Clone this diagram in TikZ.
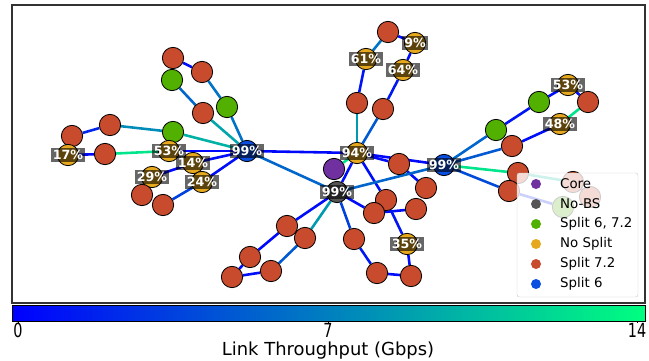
\documentclass[tikz,border=0pt]{standalone}
\usepackage{fontspec}
\setmainfont{DejaVu Sans}
\usetikzlibrary{backgrounds}
% link colours run from lo (0 Gbps) to hi (14 Gbps)
\definecolor{lo}{rgb}{0,0,1}
\definecolor{hi}{rgb}{0,1,0.5}
\definecolor{corec}{HTML}{7030A0}
\definecolor{nobsc}{HTML}{555555}
\definecolor{bothc}{HTML}{52B000}
\definecolor{nosplitc}{HTML}{E6A81E}
\definecolor{sevtwoc}{HTML}{C84B2D}
\definecolor{sixc}{HTML}{0A4FE0}
\tikzset{site/.style={circle,draw=black,line width=0.7pt,minimum size=0.64cm,inner sep=0pt},core/.style={site,fill=corec},nobs/.style={site,fill=nobsc},both/.style={site,fill=bothc},nosplit/.style={site,fill=nosplitc},sevtwo/.style={site,fill=sevtwoc},six/.style={site,fill=sixc},link/.style={line width=2.2pt},pct/.style={fill=black,fill opacity=0.6,text opacity=1,text=white,font=\fontsize{10.8}{12}\selectfont\bfseries,inner sep=1.6pt},keydot/.style={circle,minimum size=0.3cm,inner sep=0pt},keytxt/.style={anchor=west,font=\fontsize{11.4}{13}\selectfont,inner sep=0pt}}

\begin{document}
\begin{tikzpicture}[x=0.03cm,y=-0.03cm]
\useasboundingbox (0,0) rectangle (649,360);
\draw[black!80,line width=0.9pt] (12,5) rectangle (645,303);
% sites
\foreach \n/\x/\y/\sty in {r1/173/58/sevtwo,r2/202/72/sevtwo,g1/172/80/both,r3/203/113/sevtwo,g2/227/107/both,g3/173/132/both,r4/110/125/sevtwo,r5/72/136/sevtwo,y17/68/155/nosplit,r6/105/154/sevtwo,y53/169/151/nosplit,b99/247/151/six,y14/193/163/nosplit,y29/152/177/nosplit,y24/202/182/nosplit,r7/142/195/sevtwo,r8/163/205/sevtwo,
  r9/388/32/sevtwo,y9/415/43/nosplit,y61/366/59/nosplit,y64/403/70/nosplit,r10/357/103/sevtwo,r11/383/109/sevtwo,y94/357/153/nosplit,
  y53r/568/85/nosplit,r12/588/102/sevtwo,g4/539/102/both,y48/560/124/nosplit,g5/496/130/both,r13/512/146/sevtwo,b99r/444/165/six,r14/518/173/sevtwo,r15/509/191/sevtwo,r16/573/182/sevtwo,r17/590/197/sevtwo,g6/563/207/both,
  core/334/169/core,k99/337/192/nobs,r18/399/164/sevtwo,r19/426/188/sevtwo,r20/386/200/sevtwo,r21/374/213/sevtwo,r22/416/209/sevtwo,r23/354/239/sevtwo,r24/287/226/sevtwo,r25/305/238/sevtwo,r26/250/257/sevtwo,r27/271/271/sevtwo,r28/232/277/sevtwo,r29/377/273/sevtwo,r30/411/276/sevtwo,y35/407/244/nosplit}
  \node[\sty] (\n) at (\x,\y) {};
% links, value = share of 14 Gbps in percent
\begin{scope}[on background layer]
\foreach \a/\b/\t in {r1/r2/5,g1/r3/40,r2/g2/45,r3/b99/65,g2/b99/45,r5/r4/15,r4/g3/55,g3/b99/70,y17/r6/3,r6/y53/90,y53/b99/3,y14/b99/5,y29/y14/3,y24/b99/5,r8/y24/25,y29/r7/5,b99/y94/3,b99/k99/40,
  r9/y61/45,r9/y9/5,y9/y64/5,y61/r10/8,y64/r11/10,r10/y94/60,r11/y94/35,
  g4/y53r/5,y53r/r12/5,r12/y48/90,y48/r13/5,g5/g4/8,b99r/g5/40,b99r/r13/35,b99r/r14/90,b99r/r15/30,r14/r16/75,r15/g6/10,r16/r17/5,
  y94/b99r/3,y94/r18/5,r18/r19/5,y94/r20/5,y94/k99/5,core/y94/90,k99/b99r/40,k99/r21/5,r21/r22/5,r20/y35/8,
  k99/r24/5,k99/r25/60,r24/r26/3,r25/r27/35,r26/r28/3,r28/r27/5,k99/r23/25,r23/r29/10,r29/r30/5,r30/y35/5}
  \draw[link,draw=hi!\t!lo] (\a) -- (\b);
\end{scope}
% utilisation tags
\foreach \n/\txt in {y17/17,y53/53,b99/99,y14/14,y29/29,y24/24,y61/61,y9/9,y64/64,y94/94,k99/99,b99r/99,y53r/53,y48/48,y35/35}
  \node[pct] (l\n) at (\n) {\txt\%};
% legend
\draw[black!20,fill=white,fill opacity=0.8,rounded corners=2pt] (517,173) rectangle (638,297);
\foreach \i/\c/\txt in {0/corec/Core,1/nobsc/No-BS,2/bothc/{Split 6, 7.2},3/nosplitc/No Split,4/sevtwoc/Split 7.2,5/sixc/Split 6}{
  \node[keydot,fill=\c] (k\i) at (536,184+20*\i) {};
  \node[keytxt] (t\i) at (560,184+20*\i) {\txt};
}
% colour bar
\shade[left color=lo,right color=hi] (12,305) rectangle (645,321);
\draw[line width=0.6pt] (12,305) rectangle (645,321);
\foreach \x/\v in {18/0,328/7,637/14}{
  \draw[line width=0.6pt] (\x,321) -- (\x,323);
  \node[inner sep=0pt,font=\fontsize{12.3}{14}\selectfont] (c\v) at (\x,330) {\scalebox{1}[1.35]{\v}};
}
\node[inner sep=0pt,font=\fontsize{15.3}{18}\selectfont] (cbar) at (328,351) {Link Throughput (Gbps)};
\end{tikzpicture}
\end{document}
